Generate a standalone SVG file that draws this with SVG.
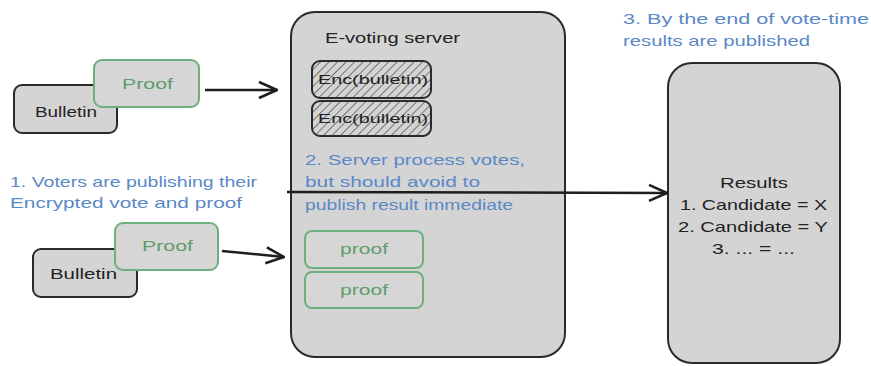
<svg xmlns="http://www.w3.org/2000/svg" width="871" height="366" viewBox="0 0 871 366">
<style>
.box{fill:#d4d4d4;stroke:#2a2a2a;stroke-width:2}
.gbox{fill:#d6d6d6;stroke:#6db07e;stroke-width:2}
.enc{fill:url(#hatch);stroke:#2a2a2a;stroke-width:2}
.t{font-family:"Liberation Sans",Arial,sans-serif;font-size:15px;fill:#222}
.g{font-family:"Liberation Sans",Arial,sans-serif;font-size:15px;fill:#5e9c6c}
.b{font-family:"Liberation Sans",Arial,sans-serif;font-size:15px;fill:#5b88c6}
.small{font-family:"Liberation Sans",Arial,sans-serif;font-size:13px;fill:#222}
.conn{fill:none;stroke:#1e1e1e;stroke-width:2.5}
</style>
<defs>
<pattern id="hatch" patternUnits="userSpaceOnUse" width="6" height="6" patternTransform="rotate(45)">
<rect width="6" height="6" fill="#d4d4d4"/>
<line x1="0" y1="0" x2="0" y2="6" stroke="#333" stroke-width="1.2"/>
</pattern>
<marker id="arr" viewBox="0 0 20 20" refX="19" refY="10" markerWidth="20" markerHeight="20" markerUnits="userSpaceOnUse" orient="auto">
<path d="M1,2 L19,10 L1,18" fill="none" stroke="#1e1e1e" stroke-width="2.5"/>
</marker>
</defs>
<rect width="871" height="366" fill="#ffffff"/>

<g id="server">
<rect class="box" x="291" y="12" width="274" height="345" rx="24"/>
<text class="t" x="325" y="43" textLength="135" lengthAdjust="spacingAndGlyphs">E-voting server</text>
</g>
<g id="enc1">
<rect class="enc" x="312" y="61" width="119" height="37" rx="8"/>
<text class="small" x="318" y="84" textLength="110" lengthAdjust="spacingAndGlyphs">Enc(bulletin)</text>
</g>
<g id="enc2">
<rect class="enc" x="312" y="101" width="119" height="35" rx="8"/>
<text class="small" x="318" y="123" textLength="110" lengthAdjust="spacingAndGlyphs">Enc(bulletin)</text>
</g>
<g id="proof-s1">
<rect class="gbox" x="305" y="231" width="118" height="37" rx="7"/>
<text class="g" x="340" y="254" textLength="48" lengthAdjust="spacingAndGlyphs">proof</text>
</g>
<g id="proof-s2">
<rect class="gbox" x="305" y="272" width="118" height="36" rx="7"/>
<text class="g" x="340" y="295" textLength="48" lengthAdjust="spacingAndGlyphs">proof</text>
</g>
<g id="note2">
<text class="b" x="305" y="165" textLength="220" lengthAdjust="spacingAndGlyphs">2. Server process votes,</text>
<text class="b" x="305" y="187" textLength="175" lengthAdjust="spacingAndGlyphs">but should avoid to</text>
<text class="b" x="305" y="210" textLength="208" lengthAdjust="spacingAndGlyphs">publish result immediate</text>
</g>

<g id="bulletin1">
<rect class="box" x="14" y="85" width="103" height="48" rx="8"/>
<text class="t" x="35" y="117" textLength="62" lengthAdjust="spacingAndGlyphs">Bulletin</text>
</g>
<g id="proof1">
<rect class="gbox" x="94" y="60" width="105" height="47" rx="8"/>
<text class="g" x="122" y="89" textLength="51" lengthAdjust="spacingAndGlyphs">Proof</text>
</g>
<g id="bulletin2">
<rect class="box" x="33" y="249" width="104" height="48" rx="8"/>
<text class="t" x="50" y="279" textLength="67" lengthAdjust="spacingAndGlyphs">Bulletin</text>
</g>
<g id="proof2">
<rect class="gbox" x="115" y="223" width="103" height="47" rx="8"/>
<text class="g" x="142" y="251" textLength="51" lengthAdjust="spacingAndGlyphs">Proof</text>
</g>
<g id="note1">
<text class="b" x="10" y="187" textLength="247" lengthAdjust="spacingAndGlyphs">1. Voters are publishing their</text>
<text class="b" x="10" y="208" textLength="232" lengthAdjust="spacingAndGlyphs">Encrypted vote and proof</text>
</g>

<g id="results">
<rect class="box" x="668" y="63" width="172" height="300" rx="24"/>
<text class="t" x="720" y="188" textLength="68" lengthAdjust="spacingAndGlyphs">Results</text>
<text class="t" x="680" y="210" textLength="147" lengthAdjust="spacingAndGlyphs">1. Candidate = X</text>
<text class="t" x="678" y="232" textLength="150" lengthAdjust="spacingAndGlyphs">2. Candidate = Y</text>
<text class="t" x="712" y="254" textLength="83" lengthAdjust="spacingAndGlyphs">3. ... = ...</text>
</g>
<g id="note3">
<text class="b" x="623" y="24" textLength="246" lengthAdjust="spacingAndGlyphs">3. By the end of vote-time</text>
<text class="b" x="623" y="46" textLength="187" lengthAdjust="spacingAndGlyphs">results are published</text>
</g>

<g id="connectors">
<path class="conn" d="M205,90 L277,90" marker-end="url(#arr)"/>
<path class="conn" d="M222,251 L284,257" marker-end="url(#arr)"/>
<path class="conn" d="M287,192 L667,193" marker-end="url(#arr)"/>
</g>
</svg>
